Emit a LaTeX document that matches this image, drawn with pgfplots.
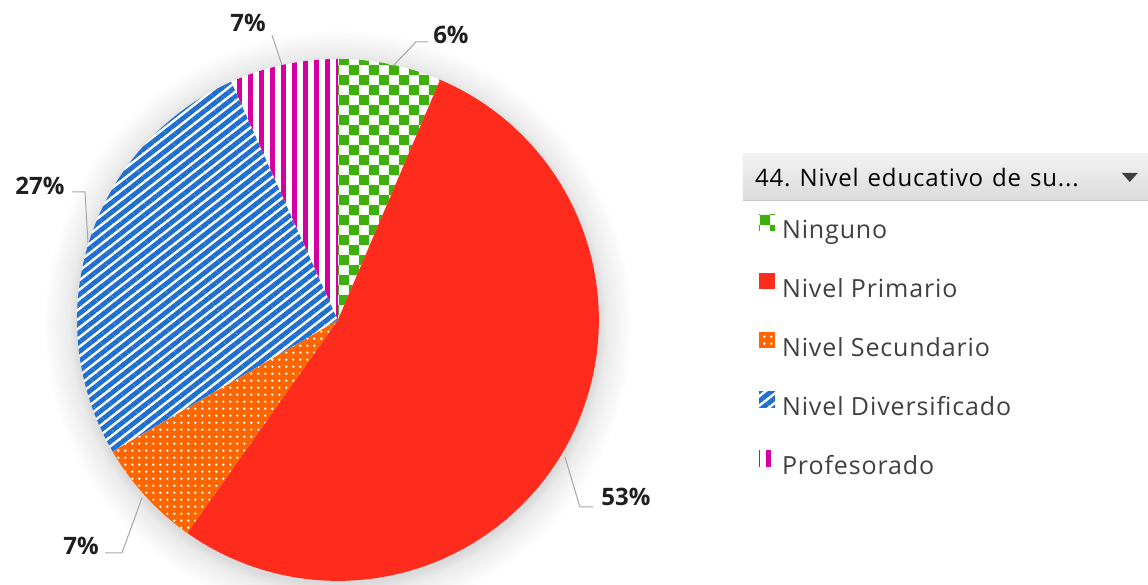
\documentclass[border=0pt]{standalone}
\usepackage{pgfplots}
\pgfplotsset{compat=1.18}
\usepackage{fontspec}
\setmainfont{Open Sans}
\newfontfamily\legfont{Open Sans}[LetterSpace=3.5]
\usetikzlibrary{patterns,patterns.meta}

\definecolor{cNin}{HTML}{3DB00C}
\definecolor{cPri}{HTML}{FF2B1C}
\definecolor{cSec}{HTML}{FF6600}
\definecolor{cDiv}{HTML}{1E6FD0}
\definecolor{cPro}{HTML}{D4009F}

% slice fills
\pgfdeclarepatternformonly{checkx}{\pgfpointorigin}{\pgfpoint{20pt}{20pt}}{\pgfpoint{20pt}{20pt}}{%
  \pgfpathrectangle{\pgfpointorigin}{\pgfpoint{10pt}{10pt}}%
  \pgfpathrectangle{\pgfpoint{10pt}{10pt}}{\pgfpoint{10pt}{10pt}}%
  \pgfusepath{fill}}
\pgfdeclarepatternformonly{vstripes}{\pgfpointorigin}{\pgfpoint{10.8pt}{10pt}}{\pgfpoint{10.8pt}{10pt}}{%
  \pgfpathrectangle{\pgfpointorigin}{\pgfpoint{5pt}{10pt}}\pgfusepath{fill}}
\pgfdeclarepatternformonly{wdots}{\pgfpointorigin}{\pgfpoint{6.8pt}{6.8pt}}{\pgfpoint{6.8pt}{6.8pt}}{%
  \pgfpathcircle{\pgfpoint{3.4pt}{3.4pt}}{1.3pt}\pgfusepath{fill}}

\pgfdeclareradialshading{pieglow}{\pgfpointorigin}{color(0bp)=(black!14); color(22.1bp)=(black!14); color(22.8bp)=(black!8); color(25bp)=(white); color(50bp)=(white)}

\begin{document}
\begin{tikzpicture}
% shares in percent: Ninguno, Primario, Secundario, Diversificado, Profesorado
\pgfmathsetmacro\aA{90}
\pgfmathsetmacro\aB{\aA-3.6*6.4}
\pgfmathsetmacro\aC{\aB-3.6*53.4}
\pgfmathsetmacro\aD{\aC-3.6*6.8}
\pgfmathsetmacro\aE{\aD-3.6*26.7}
\pgfmathsetmacro\aF{\aE-3.6*6.7}
\begin{axis}[
  x=1pt, y=1pt, xmin=0, xmax=1148, ymin=0, ymax=585,
  hide axis, clip=false,
  legend style={at={(axis cs:756,373)}, anchor=north west, draw=none, fill=none,
    font=\legfont\fontsize{25}{29}\selectfont, text=black!75, row sep=30pt, column sep=7pt,
    nodes={inner sep=0pt, text height=19pt, text depth=5pt}},
  legend cell align=left,
  legend image code/.code={\path[#1] (0pt,1pt) rectangle (16pt,17pt);},
]
\path (0,0) rectangle (1148,585);
\begin{scope}
\clip (0,0) rectangle (1148,585);
\shade[shading=pieglow] (338,261) circle[radius=295];
\end{scope}

\addplot[draw=none, preaction={fill=white}, pattern=checkx, pattern color=cNin,
  domain=\aB:\aA, samples=40, variable=\t] ({338+261*cos(\t)},{265+261*sin(\t)}) -- (338,265) -- cycle;
\addlegendentry{Ninguno}
\addplot[draw=none, fill=cPri,
  domain=\aC:\aB, samples=120, variable=\t] ({338+261*cos(\t)},{265+261*sin(\t)}) -- (338,265) -- cycle;
\addlegendentry{Nivel Primario}
\addplot[draw=none, fill=cSec, postaction={pattern=wdots, pattern color=white},
  domain=\aD:\aC, samples=40, variable=\t] ({338+261*cos(\t)},{265+261*sin(\t)}) -- (338,265) -- cycle;
\addlegendentry{Nivel Secundario}
\addplot[draw=none, preaction={fill=white}, pattern={Lines[angle=38,distance=7.5pt,line width=4.8pt]}, pattern color=cDiv,
  domain=\aE:\aD, samples=80, variable=\t] ({338+261*cos(\t)},{265+261*sin(\t)}) -- (338,265) -- cycle;
\addlegendentry{Nivel Diversificado}
\addplot[draw=none, preaction={fill=white}, pattern=vstripes, pattern color=cPro,
  domain=\aF:\aE, samples=40, variable=\t] ({338+261*cos(\t)},{265+261*sin(\t)}) -- (338,265) -- cycle;
\addlegendentry{Profesorado}

% leader lines
\addplot[forget plot, black!35, line width=1pt] coordinates {(393,519) (416,543) (428,543)};
\addplot[forget plot, black!35, line width=1pt] coordinates {(282,520) (272,550)};
\addplot[forget plot, black!35, line width=1pt] coordinates {(88,342) (85,393) (72,393)};
\addplot[forget plot, black!35, line width=1pt] coordinates {(142,87) (122,32) (105,32)};
\addplot[forget plot, black!35, line width=1pt] coordinates {(565,128) (580,78) (593,78)};

% data labels
\begin{scope}[every node/.style={font=\bfseries\fontsize{24}{28}\selectfont, text=black!88}]
\node at (451,550) {6\%};
\node at (248,562) {7\%};
\node at (40,399) {27\%};
\node at (81,39) {7\%};
\node at (626,88) {53\%};
\end{scope}

% legend header
\fill[top color=black!5, bottom color=black!14] (743,431) rectangle (1148,385);
\draw[black!22] (743,385) -- (1148,385);
\node[anchor=base west, inner sep=0pt, font=\legfont\fontsize{24}{28}\selectfont, text=black]
  at (755,398) {44.\hspace{9pt}Nivel\hspace{9pt}educativo\hspace{9pt}de\hspace{9pt}su...};
\fill[black!75] (1122,412) -- (1138,412) -- (1130,403) -- cycle;
\end{axis}
\end{tikzpicture}
\end{document}
